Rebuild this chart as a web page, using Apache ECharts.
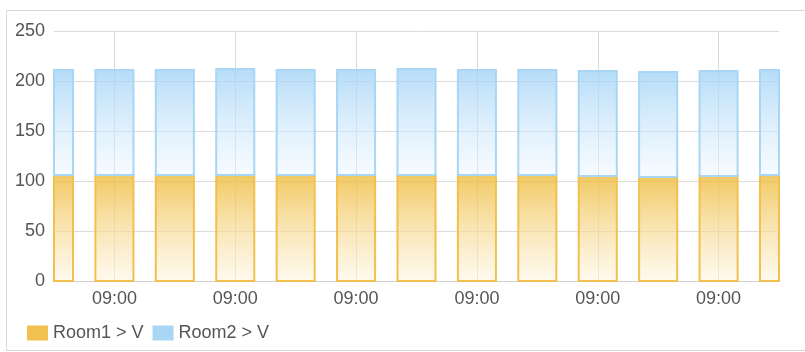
<!DOCTYPE html>
<html>
<head>
<meta charset="utf-8">
<script src="https://cdn.jsdelivr.net/npm/echarts@6/dist/echarts.min.js"></script>
<style>
  html, body { margin: 0; padding: 0; background: #fff; }
  #frame { position: absolute; left: 6px; top: 10px; width: 820px; height: 341px; border: 1px solid #d9d9d9; box-sizing: border-box; }
  #chart { position: absolute; left: 0; top: 0; width: 805px; height: 352px; }
</style>
</head>
<body>
<div id="frame"></div>
<div id="chart"></div>
<script>
// Sample timestamps (one bar each); axis shows them as HH:MM
const times = ['09:00:00','09:00:04','09:00:08','09:00:12','09:00:16','09:00:20','09:00:24',
               '09:00:28','09:00:32','09:00:36','09:00:40','09:00:44','09:00:48'];
// Voltage readings per room
const room1V = [106,106,106,106,106,106,106,106,106,105,104,105,106];
const room2V = [105,105,105,106,105,105,106,105,105,105,105,105,105];
const yTicks = [0, 50, 100, 150, 200, 250];
const seriesNames = ['Room1 > V', 'Room2 > V'];

const chart = echarts.init(document.getElementById('chart'), null, { renderer: 'canvas' });
const font = 'Arial, "Liberation Sans", sans-serif';
const oddOnly = (i) => i % 2 === 1;

function grad(top, bottom) {
  return new echarts.graphic.LinearGradient(0, 0, 0, 1, [
    { offset: 0, color: top },
    { offset: 1, color: bottom }
  ]);
}

// Stacked bar segment, cut to the plot area so edge bars are halved
function stackedBar(base, vals, fillTop, fillBottom, stroke) {
  return function (params, api) {
    const i = api.value(0);
    const lo = base ? base[i] : 0;
    const hi = lo + vals[i];
    const pLo = api.coord([i, lo]);
    const pHi = api.coord([i, hi]);
    const w = api.size([1, 0])[0] * 0.63;
    const cs = params.coordSys;
    const rect = echarts.graphic.clipRectByRect(
      { x: pLo[0] - w / 2, y: pHi[1], width: w, height: pLo[1] - pHi[1] },
      { x: cs.x, y: cs.y, width: cs.width, height: cs.height }
    );
    if (!rect) return null;
    return {
      type: 'rect',
      shape: rect,
      style: { fill: grad(fillTop, fillBottom), stroke: stroke, lineWidth: 2 }
    };
  };
}

chart.setOption({
  animation: false,
  grid: { left: 54, right: 26, top: 31, bottom: 71, containLabel: false },
  legend: {
    left: 22, top: 319, itemWidth: 21, itemHeight: 15, itemGap: 9,
    icon: 'rect',
    textStyle: { fontFamily: font, fontSize: 18, color: '#555' },
    data: seriesNames
  },
  xAxis: {
    type: 'category',
    data: times,
    boundaryGap: false,
    axisLine: { show: true, lineStyle: { color: '#d0d0d0', width: 1 } },
    axisTick: { show: false },
    axisLabel: {
      interval: oddOnly, margin: 9,
      fontFamily: font, fontSize: 18, color: '#555',
      formatter: (v) => v.slice(0, 5)
    },
    splitLine: { show: true, interval: oddOnly, lineStyle: { color: '#d9d9d9', width: 1 } }
  },
  yAxis: {
    type: 'value',
    min: yTicks[0], max: yTicks[yTicks.length - 1], interval: 50,
    axisLine: { show: false },
    axisTick: { show: false },
    axisLabel: { margin: 9, fontFamily: font, fontSize: 18, color: '#555' },
    splitLine: { lineStyle: { color: '#dcdcdc', width: 1 } }
  },
  series: [
    {
      name: seriesNames[0], type: 'custom',
      itemStyle: { color: '#f0c050' },
      encode: { x: 0, y: 1 },
      data: room1V.map((v, i) => [i, v]),
      renderItem: stackedBar(null, room1V, 'rgba(238,188,62,0.82)', 'rgba(255,246,226,0.55)', '#f2c04e')
    },
    {
      name: seriesNames[1], type: 'custom',
      itemStyle: { color: '#a9d6f5' },
      encode: { x: 0, y: 1 },
      data: room2V.map((v, i) => [i, room1V[i] + v]),
      renderItem: stackedBar(room1V, room2V, 'rgba(160,210,246,0.78)', 'rgba(236,246,255,0.45)', '#a9d6f5')
    }
  ]
});
</script>
</body>
</html>
